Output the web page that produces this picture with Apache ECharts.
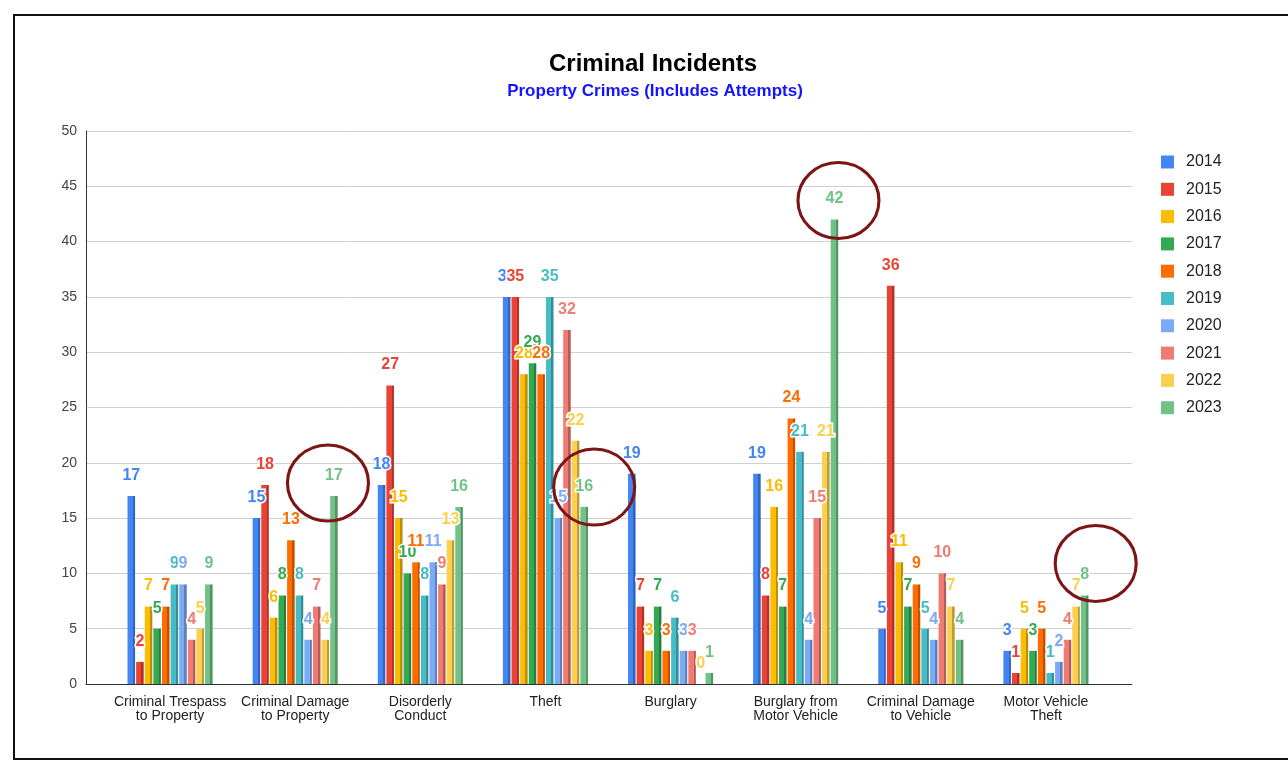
<!DOCTYPE html>
<html>
<head>
<meta charset="utf-8">
<script src="https://cdn.jsdelivr.net/npm/echarts@6/dist/echarts.min.js"></script>
<style>
  html, body { margin: 0; padding: 0; background: #fff; }
  #frame { position: absolute; left: 13px; top: 14px; width: 1400px; height: 742px;
           border-top: 2px solid #111; border-left: 2px solid #111; border-bottom: 2px solid #111; }
  #chart { position: absolute; left: 0; top: 0; width: 1288px; height: 764px; }
</style>
</head>
<body>
<div id="frame"></div>
<div id="chart"></div>
<script>
// ---- data ----
const categories = [
  'Criminal Trespass\nto Property',
  'Criminal Damage\nto Property',
  'Disorderly\nConduct',
  'Theft',
  'Burglary',
  'Burglary from\nMotor Vehicle',
  'Criminal Damage\nto Vehicle',
  'Motor Vehicle\nTheft'
];
const years = ['2014','2015','2016','2017','2018','2019','2020','2021','2022','2023'];
const v2014 = [17, 15, 18, 35, 19, 19, 5, 3];
const v2015 = [2, 18, 27, 35, 7, 8, 36, 1];
const v2016 = [7, 6, 15, 28, 3, 16, 11, 5];
const v2017 = [5, 8, 10, 29, 7, 7, 7, 3];
const v2018 = [7, 13, 11, 28, 3, 24, 9, 5];
const v2019 = [9, 8, 8, 35, 6, 21, 5, 1];
const v2020 = [9, 4, 11, 15, 3, 4, 4, 2];
const v2021 = [4, 7, 9, 32, 3, 15, 10, 4];
const v2022 = [5, 4, 13, 22, 0, 21, 7, 7];
const v2023 = [9, 17, 16, 16, 1, 42, 4, 8];
const yTicks = [0, 5, 10, 15, 20, 25, 30, 35, 40, 45, 50];
// highlighted (circled) 2023 values: category indices
const circled2023 = [1, 3, 5, 7];

const seriesValues = [v2014, v2015, v2016, v2017, v2018, v2019, v2020, v2021, v2022, v2023];
const colors = ['#4285F4','#EA4335','#FBBC04','#34A853','#FF6D01','#46BDC6','#7BAAF7','#F07B72','#FCD04F','#71C287'];
const circleOffsets = [[-6,-13],[10,-20],[4,-19],[11,-32]];
const FONT = 'Liberation Sans, Arial, sans-serif';

function darken(hex, f) {
  const n = parseInt(hex.slice(1), 16);
  const r = Math.round(((n >> 16) & 255) * f), g = Math.round(((n >> 8) & 255) * f), b = Math.round((n & 255) * f);
  return 'rgb(' + r + ',' + g + ',' + b + ')';
}

const chart = echarts.init(document.getElementById('chart'), null, { renderer: 'canvas' });

const series = years.map((y, i) => {
  const c = colors[i];
  const s = {
    name: y,
    type: 'bar',
    xAxisIndex: 1,
    yAxisIndex: 1,
    data: seriesValues[i],
    barGap: '14%',
    barCategoryGap: '32%',
    itemStyle: {
      color: {
        type: 'linear', x: 0, y: 0, x2: 1, y2: 0,
        colorStops: [
          { offset: 0, color: c }, { offset: 0.7, color: c },
          { offset: 0.7, color: darken(c, 0.75) }, { offset: 1, color: darken(c, 0.75) }
        ]
      }
    },
    label: {
      show: true,
      position: 'top',
      distance: 12.5,
      color: c,
      fontFamily: FONT,
      fontWeight: 'bold',
      fontSize: 16,
      textBorderColor: '#fff',
      textBorderWidth: 3
    }
  };
  if (i === years.length - 1) {
    s.markPoint = {
      symbol: 'circle',
      symbolSize: [81, 76],
      silent: true,
      itemStyle: { color: 'rgba(0,0,0,0)', borderColor: '#7d1517', borderWidth: 3 },
      label: { show: false },
      data: circled2023.map((ci, k) => ({
        coord: [ci, seriesValues[i][ci]],
        symbolOffset: circleOffsets[k]
      }))
    };
  }
  return s;
});

// background grid (gridlines + axis lines)
series.unshift({ type: 'line', xAxisIndex: 0, yAxisIndex: 0, data: [], silent: true });

const option = {
  animation: false,
  color: colors,
  title: [
    {
      text: 'Criminal Incidents',
      left: 648, top: 47, textAlign: 'center',
      textStyle: { fontFamily: FONT, fontSize: 24, fontWeight: 'bold', color: '#000' }
    },
    {
      text: 'Property Crimes (Includes Attempts)',
      left: 650, top: 78, textAlign: 'center',
      textStyle: { fontFamily: FONT, fontSize: 17, fontWeight: 'bold', color: '#1414ff' }
    }
  ],
  legend: {
    orient: 'vertical',
    left: 1156, top: 149,
    itemWidth: 13, itemHeight: 13, itemGap: 11.3,
    icon: 'rect',
    data: years.map((y, i) => ({ name: y, itemStyle: { color: colors[i] } })),
    textStyle: { fontFamily: FONT, fontSize: 16, color: '#222', padding: [0, 0, 0, 7] }
  },
  grid: [
    { left: 86, right: 156, top: 131, bottom: 80 },
    { left: 107.5, right: 179.5, top: 131, bottom: 80 }
  ],
  xAxis: [
    {
      gridIndex: 0, type: 'value', min: 0, max: 1,
      axisLine: { show: true, onZero: false, lineStyle: { color: '#333', width: 1 } },
      axisTick: { show: false }, axisLabel: { show: false }, splitLine: { show: false }
    },
    {
      gridIndex: 1, type: 'category', data: categories,
      axisLine: { show: false }, axisTick: { show: false },
      axisLabel: {
        margin: 11, color: '#222', fontSize: 14, lineHeight: 14,
        fontFamily: FONT, interval: 0
      }
    }
  ],
  yAxis: [
    {
      gridIndex: 0, type: 'value', min: 0, max: 50, interval: 5,
      axisLine: { show: true, lineStyle: { color: '#333', width: 1 } },
      axisTick: { show: false },
      axisLabel: {
        margin: 9, color: '#444', fontSize: 14,
        fontFamily: FONT,
        formatter: v => (yTicks.indexOf(v) >= 0 ? String(v) : '')
      },
      splitLine: { show: true, lineStyle: { color: '#d0d0d0', width: 1 } }
    },
    {
      gridIndex: 1, type: 'value', min: 0, max: 50, interval: 5, show: false,
      splitLine: { show: false }
    }
  ],
  series: series
};

chart.setOption(option);
</script>
</body>
</html>
